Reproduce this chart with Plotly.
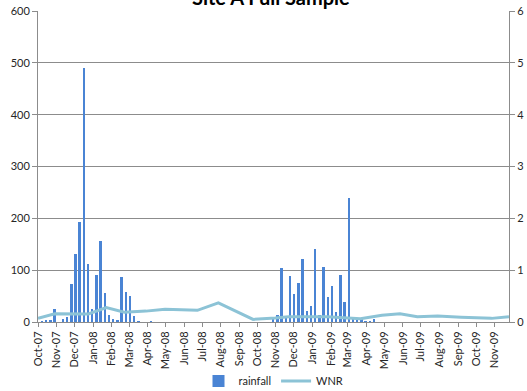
import plotly.graph_objects as go

# Weekly rainfall (left axis)
rain_dates = [
    "2007-10-08", "2007-10-15", "2007-10-22", "2007-10-29", "2007-11-12", "2007-11-19",
    "2007-11-26", "2007-12-03", "2007-12-10", "2007-12-17", "2007-12-24", "2007-12-31",
    "2008-01-07", "2008-01-14", "2008-01-21", "2008-01-28", "2008-02-04", "2008-02-11",
    "2008-02-18", "2008-02-25", "2008-03-03", "2008-03-10", "2008-03-17", "2008-04-07",
    "2008-10-28", "2008-11-04", "2008-11-11", "2008-11-18", "2008-11-25", "2008-12-02",
    "2008-12-09", "2008-12-16", "2008-12-23", "2008-12-30", "2009-01-06", "2009-01-13",
    "2009-01-20", "2009-01-27", "2009-02-03", "2009-02-10", "2009-02-17", "2009-02-24",
    "2009-03-03", "2009-03-10", "2009-03-17", "2009-03-24", "2009-03-31", "2009-04-07",
    "2009-04-14",
]
rainfall = [
    1, 2, 2, 25, 6, 10,
    74, 131, 192, 491, 111, 26,
    90, 156, 55, 13, 5, 4,
    87, 57, 51, 12, 1, 1,
    10, 13, 104, 7, 89, 54,
    76, 121, 22, 31, 140, 14,
    106, 48, 69, 20, 90, 39,
    239, 8, 3, 5, 1, 1,
    5,
]

# WNR (right axis)
wnr_dates = [
    "2007-10-01", "2007-10-29", "2007-12-24", "2008-01-23", "2008-02-22", "2008-03-29",
    "2008-04-30", "2008-06-23", "2008-07-28", "2008-09-24", "2008-10-31", "2008-11-22",
    "2009-01-26", "2009-02-28", "2009-03-22", "2009-04-27", "2009-05-27", "2009-06-25",
    "2009-07-29", "2009-09-06", "2009-10-27", "2009-11-25",
]
wnr = [
    0.07, 0.16, 0.155, 0.28, 0.19, 0.21,
    0.245, 0.225, 0.37, 0.05, 0.075, 0.10,
    0.10, 0.08, 0.065, 0.13, 0.16, 0.10,
    0.115, 0.09, 0.07, 0.10,
]

title_text = "Site A Full Sample"
font_family = "Lato, 'Liberation Sans', sans-serif"
grid_col = "#8c8c8c"
axis_col = "#8c8c8c"
text_col = "#262626"
DAY_MS = 86400000

fig = go.Figure()
fig.add_trace(go.Bar(
    x=rain_dates, y=rainfall, name="rainfall",
    marker=dict(color="#4a84d4", line=dict(width=0)),
    width=3.2 * DAY_MS, yaxis="y",
))
fig.add_trace(go.Scatter(
    x=wnr_dates, y=wnr, name="WNR", mode="lines",
    line=dict(color="#8cc3d6", width=3), yaxis="y2",
))

fig.update_layout(
    width=527, height=391,
    margin=dict(l=38, r=18, t=11, b=69, autoexpand=False),
    paper_bgcolor="white", plot_bgcolor="white",
    font=dict(family=font_family, size=11, color=text_col),
    showlegend=True,
    legend=dict(orientation="h", x=0.5, xanchor="center",
                yref="container", y=1 - 381 / 391, yanchor="middle",
                font=dict(size=11, color=text_col), itemwidth=30,
                bgcolor="rgba(0,0,0,0)", tracegroupgap=0),
    bargap=0,
    xaxis=dict(
        type="date", range=["2007-10-01", "2009-11-25"],
        tick0="2007-10-01", dtick="M1", tickformat="%b-%y",
        tickangle=-90, ticks="outside", ticklen=4, tickcolor=axis_col,
        showline=True, linecolor=axis_col, linewidth=1,
        showgrid=False, zeroline=False, automargin=False,
        tickfont=dict(size=11, color=text_col),
    ),
    yaxis=dict(
        range=[0, 600], dtick=100, ticks="outside", ticklen=5, tickcolor=axis_col,
        showline=True, linecolor=axis_col, linewidth=1, automargin=False,
        showgrid=True, gridcolor=grid_col, gridwidth=1, zeroline=False,
        tickfont=dict(size=11, color=text_col),
    ),
    yaxis2=dict(
        range=[0, 6], dtick=1, overlaying="y", side="right",
        ticks="outside", ticklen=5, tickcolor=axis_col,
        showline=True, linecolor=axis_col, linewidth=1, automargin=False,
        showgrid=False, zeroline=False,
        tickfont=dict(size=11, color=text_col),
    ),
    annotations=[dict(
        text="<b>" + title_text + "</b>", xref="paper", yref="paper",
        x=0.495, y=1, xanchor="center", yanchor="bottom", yshift=0,
        showarrow=False, font=dict(size=20, color="#000000", family=font_family),
    )],
)

fig.write_html("out.html", config={"displayModeBar": False},
               post_script="document.body.style.margin='0';")
